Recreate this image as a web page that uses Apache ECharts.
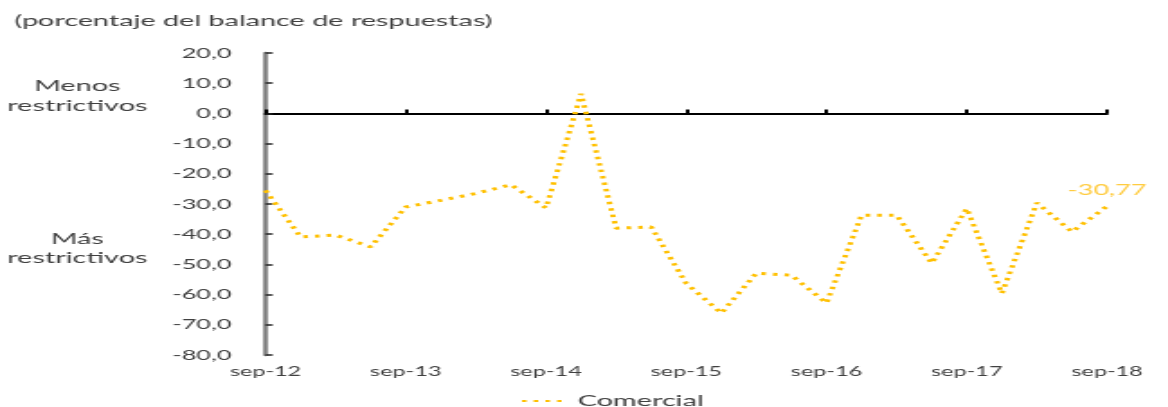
<!DOCTYPE html>
<html>
<head>
<meta charset="utf-8">
<script src="https://cdn.jsdelivr.net/npm/echarts@6/dist/echarts.min.js"></script>
<style>
  html, body { margin: 0; padding: 0; background: #fff; overflow: hidden; }
  #wrap { width: 1168px; height: 407px; overflow: hidden; }
  /* chart is laid out narrow and widened horizontally */
  #chart { width: 649px; height: 407px; transform: scaleX(1.8); transform-origin: 0 0; }
</style>
</head>
<body>
<div id="wrap"><div id="chart"></div></div>
<script>
// Quarterly periods
const categories = [
  'sep-12', 'dic-12', 'mar-13', 'jun-13',
  'sep-13', 'dic-13', 'mar-14', 'jun-14',
  'sep-14', 'dic-14', 'mar-15', 'jun-15',
  'sep-15', 'dic-15', 'mar-16', 'jun-16',
  'sep-16', 'dic-16', 'mar-17', 'jun-17',
  'sep-17', 'dic-17', 'mar-18', 'jun-18',
  'sep-18'
];

// Balance of answers, commercial credit standards (%)
const comercial = [
  -25.5, -40.9, -40.3, -44.2,
  -31.0, -28.8, -26.5, -23.6,
  -31.3, 6.5, -38.0, -37.6,
  -56.3, -66.1, -52.9, -53.6,
  -62.8, -33.7, -33.7, -49.6,
  -31.5, -59.6, -29.6, -39.2,
  -30.77
];

const seriesName = 'Comercial';
const titleText = '(porcentaje del balance de respuestas)';
const upperNote = 'Menos\nrestrictivos';
const lowerNote = 'Más\nrestrictivos';

const yMin = -80, yMax = 20, yStep = 10;

const FONT = 'Lato, "Open Sans", sans-serif';
const TEXT = '#404040';
const LINE = '#FFC000';

function fmtNum(v, d) {
  return v.toFixed(d).replace('.', ',');
}

const lastIdx = comercial.length - 1;

const chart = echarts.init(document.getElementById('chart'), null, { renderer: 'canvas' });

chart.setOption({
  backgroundColor: '#ffffff',
  animation: false,
  grid: { left: 147.5, right: 34, top: 53, bottom: 52, containLabel: false },
  legend: {
    data: [seriesName],
    left: 284,
    top: 388,
    itemWidth: 26,
    itemHeight: 12,
    itemStyle: { opacity: 0 },
    textStyle: { color: TEXT, fontFamily: FONT, fontSize: 16 }
  },
  xAxis: [
    {
      // zero line with year ticks
      type: 'category',
      data: categories,
      boundaryGap: false,
      position: 'bottom',
      axisLine: { show: true, onZero: true, lineStyle: { color: '#000', width: 2 } },
      axisTick: { show: true, inside: true, interval: 3, length: 4, lineStyle: { color: '#000', width: 2 } },
      axisLabel: { show: false },
      splitLine: { show: false }
    },
    {
      // period labels along the bottom
      type: 'category',
      data: categories,
      boundaryGap: false,
      position: 'bottom',
      axisLine: { show: false, onZero: false },
      axisTick: { show: false },
      axisLabel: {
        show: true, interval: 3, margin: 10,
        color: TEXT, fontFamily: FONT, fontSize: 13
      },
      splitLine: { show: false }
    }
  ],
  yAxis: {
    type: 'value',
    min: yMin,
    max: yMax,
    interval: yStep,
    axisLine: { show: true, lineStyle: { color: '#7f7f7f', width: 2.5 } },
    axisTick: { show: true, inside: true, length: 4, lineStyle: { color: '#222', width: 1.5 } },
    axisLabel: {
      margin: 19,
      color: TEXT, fontFamily: FONT, fontSize: 14,
      formatter: v => fmtNum(v, 1)
    },
    splitLine: { show: false }
  },
  graphic: [
    {
      type: 'text', left: 8, top: 13,
      style: { text: titleText, fill: TEXT, font: '16px ' + FONT }
    },
    {
      type: 'text', x: 43, y: 96,
      style: {
        text: upperNote, fill: TEXT, font: '16px ' + FONT,
        align: 'center', verticalAlign: 'middle', lineHeight: 20
      }
    },
    {
      type: 'text', x: 43, y: 248,
      style: {
        text: lowerNote, fill: TEXT, font: '16px ' + FONT,
        align: 'center', verticalAlign: 'middle', lineHeight: 19
      }
    }
  ],
  series: [
    {
      name: seriesName,
      type: 'line',
      xAxisIndex: 0,
      data: comercial,
      symbol: 'none',
      showSymbol: false,
      color: LINE,
      lineStyle: { color: LINE, width: 3, type: [2.5, 4], cap: 'butt' },
      // value tag on the latest observation
      markPoint: {
        symbol: 'circle',
        symbolSize: 0,
        data: [{ coord: [lastIdx, comercial[lastIdx]], value: comercial[lastIdx] }],
        label: {
          show: true,
          position: 'top',
          distance: 9,
          formatter: p => fmtNum(p.value, 2),
          color: '#FFCC40',
          fontFamily: FONT,
          fontSize: 15
        }
      }
    }
  ]
});
</script>
</body>
</html>
